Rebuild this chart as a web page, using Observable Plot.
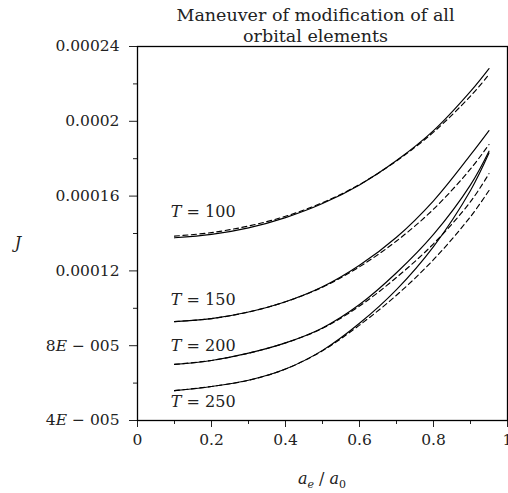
<!DOCTYPE html>
<html><head><meta charset="utf-8">
<script src="https://cdn.jsdelivr.net/npm/d3@7"></script>
<script src="https://cdn.jsdelivr.net/npm/@observablehq/plot@0.6"></script>
<style>body{margin:0;background:#fff} svg{display:block}</style>
</head><body><div id="chart"></div>
<script>
// a_e / a_0 sample points
const xs = [0.1, 0.2, 0.3, 0.4, 0.5, 0.6, 0.7, 0.8, 0.9, 0.95];
// J values, solid and dashed curves for each T
const T100_solid  = [13.77e-5, 13.95e-5, 14.30e-5, 14.85e-5, 15.60e-5, 16.60e-5, 17.90e-5, 19.50e-5, 21.60e-5, 22.82e-5];
const T100_dashed = [13.86e-5, 14.05e-5, 14.40e-5, 14.92e-5, 15.65e-5, 16.62e-5, 17.88e-5, 19.42e-5, 21.35e-5, 22.50e-5];
const T150_solid  = [9.29e-5, 9.45e-5, 9.80e-5, 10.35e-5, 11.15e-5, 12.30e-5, 13.80e-5, 15.75e-5, 18.20e-5, 19.50e-5];
const T150_dashed = [9.29e-5, 9.45e-5, 9.80e-5, 10.35e-5, 11.13e-5, 12.22e-5, 13.60e-5, 15.30e-5, 17.45e-5, 18.76e-5];
const T200_solid  = [7.00e-5, 7.21e-5, 7.60e-5, 8.15e-5, 8.95e-5, 10.20e-5, 11.90e-5, 13.95e-5, 16.60e-5, 18.40e-5];
const T200_dashed = [7.00e-5, 7.21e-5, 7.60e-5, 8.15e-5, 8.93e-5, 10.12e-5, 11.65e-5, 13.45e-5, 15.70e-5, 17.20e-5];
const T250_solid  = [5.60e-5, 5.82e-5, 6.15e-5, 6.75e-5, 7.75e-5, 9.20e-5, 11.00e-5, 13.30e-5, 16.30e-5, 18.30e-5];
const T250_dashed = [5.60e-5, 5.82e-5, 6.15e-5, 6.75e-5, 7.73e-5, 9.10e-5, 10.70e-5, 12.60e-5, 14.90e-5, 16.30e-5];

// curve labels
const labelT = [100, 150, 200, 250];
const labelX = [0.09, 0.09, 0.09, 0.09];
const labelY = [15.18e-5, 10.47e-5, 8.01e-5, 4.98e-5];

// ticks
const xMajor = [0, 0.2, 0.4, 0.6, 0.8, 1];
const xMajorLabels = ["0", "0.2", "0.4", "0.6", "0.8", "1"];
const xMinor = [0.1, 0.3, 0.5, 0.7, 0.9];
const yMajor = [4e-5, 8e-5, 12e-5, 16e-5, 20e-5, 24e-5];
const yMajorLabels = ["4E − 005", "8E − 005", "0.00012", "0.00016", "0.0002", "0.00024"];
const yMinor = [6e-5, 10e-5, 14e-5, 18e-5, 22e-5];

const titleText = "Maneuver of modification of all\norbital elements";

const seriesDefs = [
  {T: 100, style: "solid", ys: T100_solid}, {T: 100, style: "dashed", ys: T100_dashed},
  {T: 150, style: "solid", ys: T150_solid}, {T: 150, style: "dashed", ys: T150_dashed},
  {T: 200, style: "solid", ys: T200_solid}, {T: 200, style: "dashed", ys: T200_dashed},
  {T: 250, style: "solid", ys: T250_solid}, {T: 250, style: "dashed", ys: T250_dashed}
];
const rows = seriesDefs.flatMap(s => xs.map((x, i) => ({x, y: s.ys[i], key: s.T + s.style, style: s.style})));
const labels = labelT.map((t, i) => ({t, x: labelX[i], y: labelY[i]}));

const FONT = "DejaVu Serif";
const TICK_FS = 15.5;
const plot = Plot.plot({
  width: 508, height: 493,
  marginLeft: 137, marginRight: 1, marginTop: 46, marginBottom: 73,
  style: {fontFamily: FONT, fontSize: "15.5px", color: "#222", background: "#fff", overflow: "visible"},
  x: {domain: [0, 1], label: null},
  y: {domain: [4e-5, 24e-5], label: null},
  marks: [
    Plot.axisX({ticks: xMajor, tickSize: 7, tickPadding: 6, label: null, className: "xmajor",
      tickFormat: d => xMajorLabels[xMajor.findIndex(v => Math.abs(v - d) < 1e-9)]}),
    Plot.axisX({ticks: xMinor, tickSize: 4, tickFormat: () => "", label: null}),
    Plot.axisY({ticks: yMajor, tickSize: 8, tickPadding: 10, label: null, className: "ymajor",
      tickFormat: d => yMajorLabels[yMajor.findIndex(v => Math.abs(v - d) < 1e-12)]}),
    Plot.axisY({ticks: yMinor, tickSize: 4, tickFormat: () => "", label: null}),
    Plot.frame({stroke: "#000", strokeWidth: 1.3}),
    Plot.line(rows.filter(r => r.style === "solid"), {x: "x", y: "y", z: "key", stroke: "#000", strokeWidth: 1.15, curve: "catmull-rom"}),
    Plot.line(rows.filter(r => r.style === "dashed"), {x: "x", y: "y", z: "key", stroke: "#000", strokeWidth: 1.15, strokeDasharray: "5,3.5", curve: "catmull-rom"}),
    Plot.text(labels, {x: "x", y: "y", text: d => "T = " + d.t, textAnchor: "start", fontSize: 16, fill: "#222", className: "tlabels"}),
    Plot.text([titleText], {frameAnchor: "top", dx: -7, dy: -40, lineAnchor: "top", lineHeight: 1.17, text: d => d, fontSize: 17.5, fill: "#222"})
  ]
});

const svg = d3.select(plot);
// italic E in exponent labels
svg.selectAll("g.ymajor text").each(function() {
  const t = d3.select(this); const s = t.text();
  if (s.includes("E")) {
    const [a, b] = s.split("E");
    t.text(""); t.append("tspan").text(a); t.append("tspan").attr("font-style", "italic").text("E"); t.append("tspan").text(b);
  }
});
// italic T in curve labels
svg.selectAll("g.tlabels text").each(function() {
  const t = d3.select(this); const s = t.text();
  t.text(""); t.append("tspan").attr("font-style", "italic").text("T"); t.append("tspan").text(s.slice(1));
});
// axis titles
svg.append("text").attr("x", 18).attr("y", 248).attr("text-anchor", "middle")
  .attr("font-family", FONT).attr("font-size", 16).attr("font-style", "italic").attr("fill", "#222").text("J");
const xl = svg.append("text").attr("x", 322).attr("y", 484).attr("text-anchor", "middle")
  .attr("font-family", FONT).attr("font-size", 16).attr("fill", "#222");
xl.append("tspan").attr("font-style", "italic").text("a");
xl.append("tspan").attr("font-style", "italic").attr("font-size", 11).attr("dy", 4).text("e");
xl.append("tspan").attr("dy", -4).text(" / ");
xl.append("tspan").attr("font-style", "italic").text("a");
xl.append("tspan").attr("font-size", 11).attr("dy", 4).text("0");

document.getElementById("chart").appendChild(plot);
</script>
</body></html>
